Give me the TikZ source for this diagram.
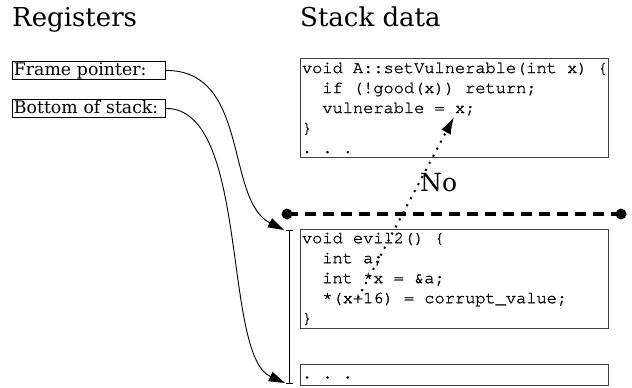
\documentclass[tikz,border=0pt]{standalone}
\usepackage{fontspec}
\setmainfont{DejaVu Serif}
\newfontfamily\codefont[Extension=.otf, FakeBold=1.2]{texgyrecursor-regular}
\usetikzlibrary{arrows.meta}
\newcommand\csp{\phantom{x}}
\tikzset{
  reg/.style={draw=black, line width=0.9pt, minimum width=153pt, minimum height=18pt, inner xsep=1.5pt, inner ysep=0pt, text height=14.5pt, text depth=3.5pt, text width=150pt, align=left, anchor=north west, font=\fontsize{17.3}{18}\selectfont},
  title/.style={anchor=base west, inner sep=0pt, font=\fontsize{26}{28}\selectfont},
  codebox/.style={draw=black!75, line width=0.9pt, anchor=north west, minimum width=308pt, inner xsep=1pt, inner ysep=0pt, text width=305pt, align=left, font=\codefont\fontsize{17}{20}\selectfont},
  link/.style={line width=0.9pt, -{Triangle[length=16pt,width=10pt]}},
}
\begin{document}
\begin{tikzpicture}[x=1pt,y=-1pt]
\useasboundingbox (0,0) rectangle (632,388);
\node[title] (treg) at (12,27) {Registers};
\node[title] (tstack) at (300,27) {Stack data};
\node[reg] (fp) at (12,61) {Frame pointer:};
\node[reg] (bs) at (12,99) {Bottom of stack:};
\node[codebox, minimum height=99pt] (top) at (300,58) {void\csp A::setVulnerable(int\csp x)\csp\{\\
\csp\csp if\csp(!good(x))\csp return;\\
\csp\csp vulnerable\csp=\csp x;\\
\}\\
.\csp.\csp.};
\node[codebox, minimum height=99pt] (evil) at (300,229) {void\csp evil2()\csp\{\\
\csp\csp int\csp a;\\
\csp\csp int\csp *x\csp=\csp\&a;\\
\csp\csp *(x+16)\csp=\csp corrupt\_value;\\
\}};
\node[codebox, minimum height=21pt] (bot) at (300,364) {.\csp.\csp.};
% dashed boundary
\coordinate (dl) at (287,214);
\coordinate (dr) at (621,214);
\draw[line width=4pt, dash pattern=on 11pt off 7pt] (dl) -- (dr);
\fill (dl) circle (5.5pt);
\fill (dr) circle (5.5pt);
% stack extent bar
\coordinate (vt) at (289,230);
\coordinate (vb) at (289,384);
\draw[line width=0.9pt, {Bar[width=7pt]}-{Bar[width=7pt]}] (vt) -- (vb);
% register pointers
\coordinate (fpt) at (284,230);
\coordinate (bst) at (285,383);
\draw[link] (fp.east) .. controls (250,70) and (225,200) .. (fpt);
\draw[link] (bs.east) .. controls (250,108) and (222,355) .. (bst);
% dotted attempt
\coordinate (ds) at (358,298);
\coordinate (de) at (454,117);
\draw[line width=2pt, dash pattern=on 2pt off 6pt, -{Latex[length=17pt,width=11pt]}] (ds) -- (de);
\node[anchor=west, inner sep=0pt, font=\fontsize{25}{28}\selectfont] (no) at (420,183) {No};
\end{tikzpicture}
\end{document}
